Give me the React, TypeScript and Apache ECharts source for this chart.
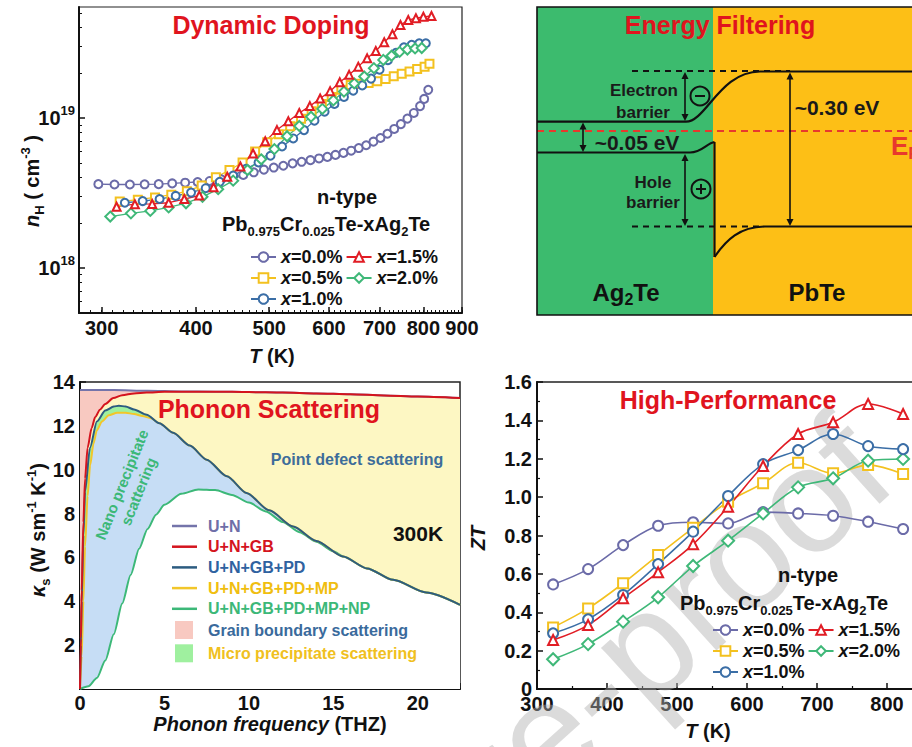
import React, { useEffect, useRef } from "react";
import * as echarts from "echarts";

const FONT = '"Liberation Sans", Arial, Helvetica, sans-serif';

// ---------------- Panel (a): Hall carrier concentration (units of 1e18 cm^-3) ----------------
const hallT00 = [297,312,327,342,357,372,387,402,417,432,447,462,477,492,507,522,537,552,567,582,597,612,627,642,657,672,687,702,717,732,747,762,777,792,802,812];
const hallN00 = [3.62,3.60,3.60,3.61,3.62,3.66,3.70,3.74,3.80,3.90,4.02,4.17,4.34,4.52,4.67,4.80,4.98,5.10,5.23,5.37,5.50,5.67,5.85,6.05,6.30,6.58,6.95,7.35,7.85,8.45,9.1,9.9,10.8,12.0,13.4,15.4];
const hallT05 = [317,335,353,371,389,407,425,443,461,479,497,515,533,551,569,587,605,623,641,659,677,695,713,731,749,767,785,803,815];
const hallN05 = [2.77,2.85,2.95,3.08,3.24,3.54,4.02,4.50,5.05,5.97,6.9,7.8,8.8,9.9,11.1,12.4,13.8,15.4,16.6,16.95,17.1,17.6,18.2,19.0,19.7,20.4,21.2,22.0,23.0];
const hallT10 = [322,340,358,376,394,412,430,448,466,484,502,520,538,556,574,592,610,628,646,664,682,700,718,736,754,772,790,806];
const hallN10 = [2.72,2.79,2.88,3.02,3.18,3.40,3.75,4.13,4.58,5.05,5.6,6.45,7.3,8.3,9.6,11.0,12.4,13.8,15.2,16.5,18.3,21.0,24.3,27.2,29.6,30.8,31.5,31.5];
const hallT15 = [314,332,350,368,386,404,422,440,458,476,494,512,530,548,566,584,602,620,638,656,674,692,710,728,746,764,782,800,820];
const hallN15 = [2.56,2.66,2.67,2.72,2.88,3.04,3.45,4.05,4.75,5.8,7.0,8.3,9.5,10.8,12.0,13.5,15.1,17.3,19.4,22.0,25.0,28.0,32.0,36.2,41.7,45.0,46.3,47.3,47.9];
const hallT20 = [308,328,348,368,388,408,428,448,468,488,508,528,548,568,588,608,628,648,668,688,708,726,744,762,780,796];
const hallN20 = [2.20,2.31,2.40,2.53,2.70,2.98,3.35,3.82,4.50,5.30,6.2,7.55,8.85,10.2,11.5,13.1,15.0,17.0,18.9,21.5,24.4,26.0,27.6,28.6,29.1,29.3];
const hallXTicks = [300, 400, 500, 600, 700, 800, 900];
const hallYTicks = [1, 10];
const hallYMinor = [0.6, 0.7, 0.8, 0.9, 2, 3, 4, 5, 6, 7, 8, 9, 20, 30, 40, 50];

// ---------------- Panel (c): spectral lattice thermal conductivity ----------------
const unF = [0,2,4,6,8,10,12,14,16,18,20,22.5];
const unK = [13.63,13.63,13.6,13.57,13.56,13.54,13.52,13.48,13.44,13.39,13.34,13.27];
const gbF = [0,0.05,0.1,0.2,0.3,0.45,0.69,0.9,1.18,1.5,1.97,2.5,3.2,3.95,5,6,8,10,12,14,16,18,20,22.5];
const gbK = [0,2.3,4.5,7.6,9.6,11.0,11.9,12.4,12.74,13.0,13.27,13.4,13.48,13.52,13.55,13.56,13.56,13.54,13.52,13.48,13.44,13.39,13.34,13.27];
const pdF = [0,0.05,0.1,0.2,0.3,0.59,1.0,1.5,2.0,2.3,2.7,3.2,3.95,4.7,5.52,6.5,7.5,8.7,9.86,11.2,12.62,14,15.58,17,18.54,20.5,22.5];
const pdK = [0,2.0,4.0,7.0,9.0,11.0,12.2,12.7,12.88,12.92,12.88,12.75,12.51,12.12,11.68,11.1,10.46,9.7,8.94,8.15,7.41,6.75,6.04,5.5,4.98,4.4,3.84];
const mpF = [0,0.1,0.2,0.3,0.45,0.6,0.8,1.0,1.3,1.7,2.2,2.7,3.2,3.7,4.2,4.7,5.52,6.5,7.5,8.7,9.86,11.2,12.62,14,15.58,17,18.54,20.5,22.5];
const mpK = [0,1.5,4.0,6.5,8.8,10.2,11.2,11.8,12.2,12.48,12.6,12.6,12.54,12.45,12.35,12.12,11.68,11.1,10.46,9.7,8.94,8.15,7.41,6.75,6.04,5.5,4.98,4.4,3.84];
const npF = [0,0.5,1.0,1.5,2.0,2.5,3.0,3.5,4.0,4.5,5.0,6.0,7.0,8.0,9.0,10.0,11.0,12.0,13.0,14.0,15.0,15.58,17,18.54,20.5,22.5];
const npK = [0,0.12,0.5,1.3,2.5,3.9,5.2,6.4,7.3,7.95,8.4,8.9,9.1,9.07,8.85,8.5,8.1,7.62,7.15,6.72,6.28,6.04,5.5,4.98,4.4,3.84];

// ---------------- Panel (d): ZT ----------------
const ztT = [323,373,423,473,523,573,623,673,723,773,823];
const zt00 = [0.545,0.625,0.75,0.851,0.869,0.863,0.922,0.915,0.903,0.872,0.834];
const zt05 = [0.321,0.42,0.551,0.698,0.84,0.976,1.072,1.179,1.124,1.167,1.12];
const zt10 = [0.29,0.363,0.49,0.651,0.82,1.006,1.172,1.245,1.329,1.266,1.25];
const zt15 = [0.255,0.333,0.473,0.608,0.754,0.95,1.162,1.329,1.39,1.485,1.433];
const zt20 = [0.155,0.234,0.351,0.478,0.641,0.773,0.915,1.051,1.098,1.19,1.199];

const C = { purple: "#6b6ba8", yellow: "#f3c11f", blue: "#3b6ea6", red: "#e11d25", green: "#3fb878" };
const K = "#111";

const zip = (a: number[], b: number[]) => a.map((v, i) => [v, b[i]]);

function axisBase(extra: any) {
  return {
    splitLine: { show: false },
    axisLine: { show: true, onZero: false, lineStyle: { color: K, width: 2 } },
    axisTick: { show: true, inside: true, length: 6, lineStyle: { color: K, width: 1.5 } },
    minorTick: { show: true, splitNumber: 2, length: 3, lineStyle: { color: K, width: 1.2 } },
    axisLabel: { color: K, fontSize: 20, fontWeight: "bold", fontFamily: FONT, margin: 5 },
    ...extra,
  };
}

function txt(x: number, y: number, text: string, size: number, fill: string, extra: any = {}, el: any = {}) {
  return {
    type: "text", x, y, z: 30, silent: true, ...el,
    style: { text, fontFamily: FONT, fontWeight: "bold", fontSize: size, fill, align: "center", verticalAlign: "middle", ...extra },
  };
}

function arrow(x: number, y1: number, y2: number) {
  return [
    { type: "line", z: 20, shape: { x1: x, y1: y1 + 3, x2: x, y2: y2 - 3 }, style: { stroke: K, lineWidth: 1.6 } },
    { type: "polygon", z: 20, shape: { points: [[x, y1], [x - 3.5, y1 + 7], [x + 3.5, y1 + 7]] }, style: { fill: K } },
    { type: "polygon", z: 20, shape: { points: [[x, y2], [x - 3.5, y2 - 7], [x + 3.5, y2 - 7]] }, style: { fill: K } },
  ];
}

function richBase(size: number, color = K) {
  return {
    m: { fontFamily: FONT, fontWeight: "bold", fontSize: size, fill: color, color },
    i: { fontFamily: FONT, fontWeight: "bold", fontStyle: "italic", fontSize: size, fill: color, color },
    s: { fontFamily: FONT, fontWeight: "bold", fontSize: Math.round(size * 0.65), padding: [14, 0, 0, 0], fill: color, color },
    u: { fontFamily: FONT, fontWeight: "bold", fontSize: Math.round(size * 0.65), padding: [0, 0, 14, 0], fill: color, color },
  };
}

const FORMULA = "{m|Pb}{s|0.975}{m|Cr}{s|0.025}{m|Te-xAg}{s|2}{m|Te}";

function buildOption() {
  const line = (s: string, w = 2.2, dash?: number[]) => ({ stroke: K, lineWidth: w, fill: "none", lineDash: dash });

  const elements: any[] = [
    // watermark
    {
      type: "text", x: 866, y: 446, rotation: (42 * Math.PI) / 180, z: 1, silent: true,
      style: { text: "Journal Pre-proof", fontFamily: FONT, fontSize: 150, fill: "rgba(175,175,175,0.45)", align: "right", verticalAlign: "middle" },
    },
    // ---- Panel (b) band diagram ----
    { type: "rect", z: 5, shape: { x: 537, y: 7, width: 176, height: 308 }, style: { fill: "#3cbb6e" } },
    { type: "rect", z: 5, shape: { x: 713, y: 7, width: 210, height: 308 }, style: { fill: "#fdbf16" } },
    { type: "rect", z: 12, shape: { x: 537, y: 7, width: 400, height: 308 }, style: { fill: "none", stroke: K, lineWidth: 1.6 } },
    { type: "line", z: 10, shape: { x1: 632, y1: 71, x2: 790, y2: 71 }, style: line("", 2, [6, 5]) },
    { type: "line", z: 10, shape: { x1: 632, y1: 226.5, x2: 760, y2: 226.5 }, style: line("", 2, [6, 5]) },
    { type: "line", z: 10, shape: { x1: 537, y1: 131, x2: 912, y2: 131 }, style: { stroke: "#e8392d", lineWidth: 2, lineDash: [7, 5] } },
    { type: "line", z: 11, shape: { x1: 537, y1: 121.7, x2: 686, y2: 121.7 }, style: line("") },
    { type: "bezierCurve", z: 11, shape: { x1: 686, y1: 121.7, x2: 760, y2: 71.5, cpx1: 706, cpy1: 121.7, cpx2: 720, cpy2: 71.5 }, style: line("") },
    { type: "line", z: 11, shape: { x1: 760, y1: 71.5, x2: 920, y2: 71.5 }, style: line("") },
    { type: "line", z: 11, shape: { x1: 537, y1: 152.5, x2: 690, y2: 152.5 }, style: line("") },
    { type: "bezierCurve", z: 11, shape: { x1: 690, y1: 152.5, x2: 714.5, y2: 142, cpx1: 702, cpy1: 152.5, cpx2: 707, cpy2: 143 }, style: line("") },
    { type: "line", z: 11, shape: { x1: 714.5, y1: 142, x2: 714.5, y2: 257 }, style: line("") },
    { type: "bezierCurve", z: 11, shape: { x1: 714.5, y1: 257, x2: 765, y2: 226.5, cpx1: 726, cpy1: 240, cpx2: 740, cpy2: 226.5 }, style: line("") },
    { type: "line", z: 11, shape: { x1: 765, y1: 226.5, x2: 920, y2: 226.5 }, style: line("") },
    ...arrow(685, 72, 121),
    ...arrow(583, 122.5, 152),
    ...arrow(685, 154, 226),
    ...arrow(790, 72.5, 226),
    { type: "circle", z: 20, shape: { cx: 700, cy: 96, r: 9.5 }, style: { fill: "none", stroke: K, lineWidth: 2 } },
    { type: "line", z: 20, shape: { x1: 695, y1: 96, x2: 705, y2: 96 }, style: line("", 2) },
    { type: "circle", z: 20, shape: { cx: 701, cy: 189, r: 9.5 }, style: { fill: "none", stroke: K, lineWidth: 2 } },
    { type: "line", z: 20, shape: { x1: 696, y1: 189, x2: 706, y2: 189 }, style: line("", 2) },
    { type: "line", z: 20, shape: { x1: 701, y1: 184, x2: 701, y2: 194 }, style: line("", 2) },
    txt(720, 25, "Energy Filtering", 25, "#e0141e"),
    txt(644, 90, "Electron", 17, "#1a1a1a"),
    txt(643, 112, "barrier", 17, "#1a1a1a"),
    txt(637, 142, "~0.05 eV", 21, "#1a1a1a"),
    txt(653, 182, "Hole", 17, "#1a1a1a"),
    txt(653, 202, "barrier", 17, "#1a1a1a"),
    txt(837, 107, "~0.30 eV", 21, "#1a1a1a"),
    txt(626, 292, "{m|Ag}{s|2}{m|Te}", 24, K, { rich: richBase(24) }),
    txt(817, 292, "PbTe", 24, K),
    txt(891, 146, "{m|E}{s|F}", 26, "#e8392d", { align: "left", rich: richBase(26, "#e8392d") }),

    // ---- Panel (a) annotations ----
    txt(271, 25, "Dynamic Doping", 25, "#e0141e"),
    txt(347, 197, "n-type", 20, K),
    txt(222, 224, FORMULA, 20, K, { align: "left", rich: richBase(20) }),
    txt(32, 181, "{i|n}{s|H}{m| ( cm}{u|-3}{m| )}", 20, K, { rich: richBase(20) }, { rotation: Math.PI / 2 }),
    txt(272, 356, "{i|T}{m| (K)}", 20, K, { rich: richBase(20) }),

    // ---- Panel (c) annotations ----
    txt(269, 409, "Phonon Scattering", 25, "#e0141e"),
    txt(130, 488, "Nano precipitate\nscattering", 15, "#3cb878", { lineHeight: 18 }, { rotation: (68 * Math.PI) / 180 }),
    txt(357, 459, "Point defect scattering", 16, "#3d6d9a"),
    txt(418, 533, "300K", 21, K),
    txt(38, 530, "{i|κ}{s|s}{m| (W sm}{u|-1}{m| K}{u|-1}{m|)}", 20, K, { rich: richBase(20) }, { rotation: Math.PI / 2 }),
    txt(270, 724, "{i|Phonon frequency}{m| (THZ)}", 20, K, { rich: richBase(20) }),

    // ---- Panel (d) annotations ----
    txt(728, 400, "High-Performance", 25, "#e0141e"),
    txt(808, 575, "n-type", 20, K),
    txt(680, 603, FORMULA, 20, K, { align: "left", rich: richBase(20) }),
    txt(478, 538, "{i|ZT}", 20, K, { rich: richBase(20) }, { rotation: Math.PI / 2 }),
    txt(708, 731, "{i|T}{m| (K)}", 20, K, { rich: richBase(20) }),
  ];

  const hallSeries = [
    { name: "x=0.0%", T: hallT00, n: hallN00, color: C.purple, symbol: "emptyCircle" },
    { name: "x=0.5%", T: hallT05, n: hallN05, color: C.yellow, symbol: "emptyRect" },
    { name: "x=1.0%", T: hallT10, n: hallN10, color: C.blue, symbol: "emptyCircle" },
    { name: "x=2.0%", T: hallT20, n: hallN20, color: C.green, symbol: "emptyDiamond" },
    { name: "x=1.5%", T: hallT15, n: hallN15, color: C.red, symbol: "emptyTriangle" },
  ].map((s) => ({
    type: "line", name: s.name, xAxisIndex: 0, yAxisIndex: 0,
    data: zip(s.T, s.n), symbol: s.symbol, symbolSize: s.symbol === "emptyDiamond" ? 10 : 8,
    lineStyle: { color: s.color, width: 1.3 }, itemStyle: { color: s.color, borderColor: s.color, borderWidth: 1.8 },
  }));

  const ztSeries = [
    { name: "x=0.0%", v: zt00, color: C.purple, symbol: "emptyCircle" },
    { name: "x=0.5%", v: zt05, color: C.yellow, symbol: "emptyRect" },
    { name: "x=2.0%", v: zt20, color: C.green, symbol: "emptyDiamond" },
    { name: "x=1.0%", v: zt10, color: C.blue, symbol: "emptyCircle" },
    { name: "x=1.5%", v: zt15, color: C.red, symbol: "emptyTriangle" },
  ].map((s) => ({
    type: "line", name: s.name, xAxisIndex: 3, yAxisIndex: 3,
    data: zip(ztT, s.v), smooth: 0.35, symbol: s.symbol, symbolSize: s.symbol === "emptyDiamond" ? 12 : 10,
    lineStyle: { color: s.color, width: 1.6 }, itemStyle: { color: s.color, borderColor: s.color, borderWidth: 1.8 },
  }));

  const area = (name: string, F: number[], Kv: number[], fill: string) => ({
    type: "line", name, xAxisIndex: 2, yAxisIndex: 2, data: zip(F, Kv), smooth: 0.25, smoothMonotone: "x",
    symbol: "none", showSymbol: false, silent: true,
    lineStyle: { width: 0, color: fill }, itemStyle: { color: fill }, areaStyle: { color: fill, opacity: 1 },
  });
  const curve = (name: string, F: number[], Kv: number[], color: string) => ({
    type: "line", name, xAxisIndex: 2, yAxisIndex: 2, data: zip(F, Kv), smooth: 0.25, smoothMonotone: "x",
    symbol: "none", showSymbol: false, silent: true,
    lineStyle: { width: 2, color }, itemStyle: { color },
  });
  const kSeries = [
    area("Grain boundary scattering", unF, unK, "#f8c9c1"),
    area("pdArea", gbF, gbK, "#fdf7c3"),
    area("Micro precipitate scattering", pdF, pdK, "#9ff09f"),
    area("npArea", mpF, mpK, "#c6ddf5"),
    area("whiteArea", npF, npK, "#ffffff"),
    curve("U+N", unF, unK, "#7474aa"),
    curve("U+N+GB+PD+MP+NP", npF, npK, "#3cb878"),
    curve("U+N+GB+PD+MP", mpF, mpK, "#f2c62a"),
    curve("U+N+GB+PD", pdF, pdK, "#2c5c80"),
    curve("U+N+GB", gbF, gbK, "#d4141e"),
  ];

  const xRich = {
    i: { fontFamily: FONT, fontSize: 18, fontWeight: "bold", fontStyle: "italic", color: K },
    b: { fontFamily: FONT, fontSize: 18, fontWeight: "bold", color: K },
  };
  const xLegend = (left: number, top: number) => ({
    left, top, width: 200, orient: "horizontal", padding: 0, itemWidth: 25, itemHeight: 12, itemGap: 3,
    selectedMode: false, data: ["x=0.0%", "x=1.5%", "x=0.5%", "x=2.0%", "x=1.0%"],
    formatter: (n: string) => `{i|x}{b|${n.slice(1)}}`,
    textStyle: { fontFamily: FONT, fontSize: 18, fontWeight: "bold", color: K, rich: xRich },
  });
  const pRich = (pad: number) => ({ p: { fontFamily: FONT, fontSize: 16, fontWeight: "bold", padding: [0, 0, 0, pad] } });

  return {
    animation: false,
    backgroundColor: "#ffffff",
    grid: [
      { left: 79, top: 7, width: 383, height: 306, show: true, borderColor: "#222", borderWidth: 1.2, outerBoundsMode: "none" },
      { left: 80, top: 382, width: 380, height: 307, show: true, borderColor: "#222", borderWidth: 1.5, outerBoundsMode: "none" },
      { left: 537, top: 382, width: 385, height: 307, show: true, borderColor: "#222", borderWidth: 1.5, outerBoundsMode: "none" },
    ],
    xAxis: [
      axisBase({
        type: "log", logBase: 10, gridIndex: 0, min: 280, max: 900, position: "bottom",
        minorTick: { show: false },
        axisTick: { show: true, inside: true, length: 6, customValues: hallXTicks, lineStyle: { color: K, width: 1.5 } },
        axisLabel: { customValues: hallXTicks, formatter: (v: number) => String(Math.round(v)), color: K, fontSize: 20, fontWeight: "bold", fontFamily: FONT, margin: 5 },
      }),
      {
        type: "log", logBase: 10, gridIndex: 0, min: 280, max: 900, position: "bottom",
        axisLine: { show: false }, axisLabel: { show: false }, splitLine: { show: false },
        axisTick: { show: true, inside: true, length: 3, customValues: Array.from({ length: 63 }, (_, i) => 280 + i * 10), lineStyle: { color: K, width: 1 } },
      },
      axisBase({ type: "value", gridIndex: 1, min: 0, max: 22.5, interval: 5,
        axisLabel: { showMaxLabel: false, color: K, fontSize: 20, fontWeight: "bold", fontFamily: FONT, margin: 4 } }),
      axisBase({ type: "value", gridIndex: 2, min: 300, max: 850, interval: 100,
        axisLabel: { showMaxLabel: false, color: K, fontSize: 20, fontWeight: "bold", fontFamily: FONT, margin: 5 } }),
    ],
    yAxis: [
      axisBase({
        type: "log", logBase: 10, gridIndex: 0, min: 0.5, max: 55, position: "left",
        minorTick: { show: false },
        axisTick: { show: true, inside: true, length: 6, customValues: hallYTicks, lineStyle: { color: K, width: 1.5 } },
        axisLabel: {
          customValues: hallYTicks, margin: 4, color: K,
          formatter: (v: number) => `{b|10}{s|${18 + Math.round(Math.log10(v))}}`,
          rich: {
            b: { fontFamily: FONT, fontSize: 20, fontWeight: "bold", color: K },
            s: { fontFamily: FONT, fontSize: 13, fontWeight: "bold", color: K, padding: [0, 0, 14, 0] },
          },
        },
      }),
      {
        type: "log", logBase: 10, gridIndex: 0, min: 0.5, max: 55, position: "left",
        axisLine: { show: false }, axisLabel: { show: false }, splitLine: { show: false },
        axisTick: { show: true, inside: true, length: 3, customValues: hallYMinor, lineStyle: { color: K, width: 1 } },
      },
      axisBase({ type: "value", gridIndex: 1, min: 0, max: 14, interval: 2,
        axisLabel: { formatter: (v: number) => (v === 0 ? "" : String(v)), color: K, fontSize: 20, fontWeight: "bold", fontFamily: FONT, margin: 5 } }),
      axisBase({ type: "value", gridIndex: 2, min: 0, max: 1.6, interval: 0.2,
        axisLabel: { formatter: (v: number) => (v === 0 ? "0" : v.toFixed(1)), color: K, fontSize: 20, fontWeight: "bold", fontFamily: FONT, margin: 5 } }),
    ],
    legend: [
      xLegend(250, 248),
      xLegend(712, 621),
      {
        left: 172, top: 518, orient: "vertical", padding: 0, itemWidth: 25, itemHeight: 2.5, itemGap: 4.7,
        icon: "rect", selectedMode: false,
        formatter: (n: string) => `{p|${n}}`,
        textStyle: { fontFamily: FONT, fontSize: 16, fontWeight: "bold", rich: pRich(6) },
        data: [
          { name: "U+N", itemStyle: { color: "#7474aa" }, textStyle: { color: "#6e6ea8" } },
          { name: "U+N+GB", itemStyle: { color: "#d4141e" }, textStyle: { color: "#d4141e" } },
          { name: "U+N+GB+PD", itemStyle: { color: "#2c5c80" }, textStyle: { color: "#2f62a0" } },
          { name: "U+N+GB+PD+MP", itemStyle: { color: "#f2c62a" }, textStyle: { color: "#f0be10" } },
          { name: "U+N+GB+PD+MP+NP", itemStyle: { color: "#3cb878" }, textStyle: { color: "#3cb878" } },
        ],
      },
      {
        left: 175, top: 621, orient: "vertical", padding: 0, itemWidth: 18, itemHeight: 18, itemGap: 5.3,
        icon: "rect", selectedMode: false,
        formatter: (n: string) => `{p|${n}}`,
        textStyle: { fontFamily: FONT, fontSize: 16, fontWeight: "bold", rich: pRich(10) },
        data: [
          { name: "Grain boundary scattering", itemStyle: { color: "#f8c9c1", borderWidth: 0 }, textStyle: { color: "#3a6a9c" } },
          { name: "Micro precipitate scattering", itemStyle: { color: "#9ff09f", borderWidth: 0 }, textStyle: { color: "#f0c020" } },
        ],
      },
    ],
    series: [...kSeries, ...hallSeries, ...ztSeries],
    graphic: { elements },
  };
}

export default function App() {
  const ref = useRef<HTMLDivElement>(null);
  useEffect(() => {
    if (!ref.current) return;
    const chart = echarts.init(ref.current, null, { renderer: "svg" });
    chart.setOption(buildOption() as any);
    return () => chart.dispose();
  }, []);
  return (
    <div
      ref={ref}
      style={{ position: "absolute", left: 0, top: 0, width: 912, height: 747, background: "#fff" }}
    />
  );
}
